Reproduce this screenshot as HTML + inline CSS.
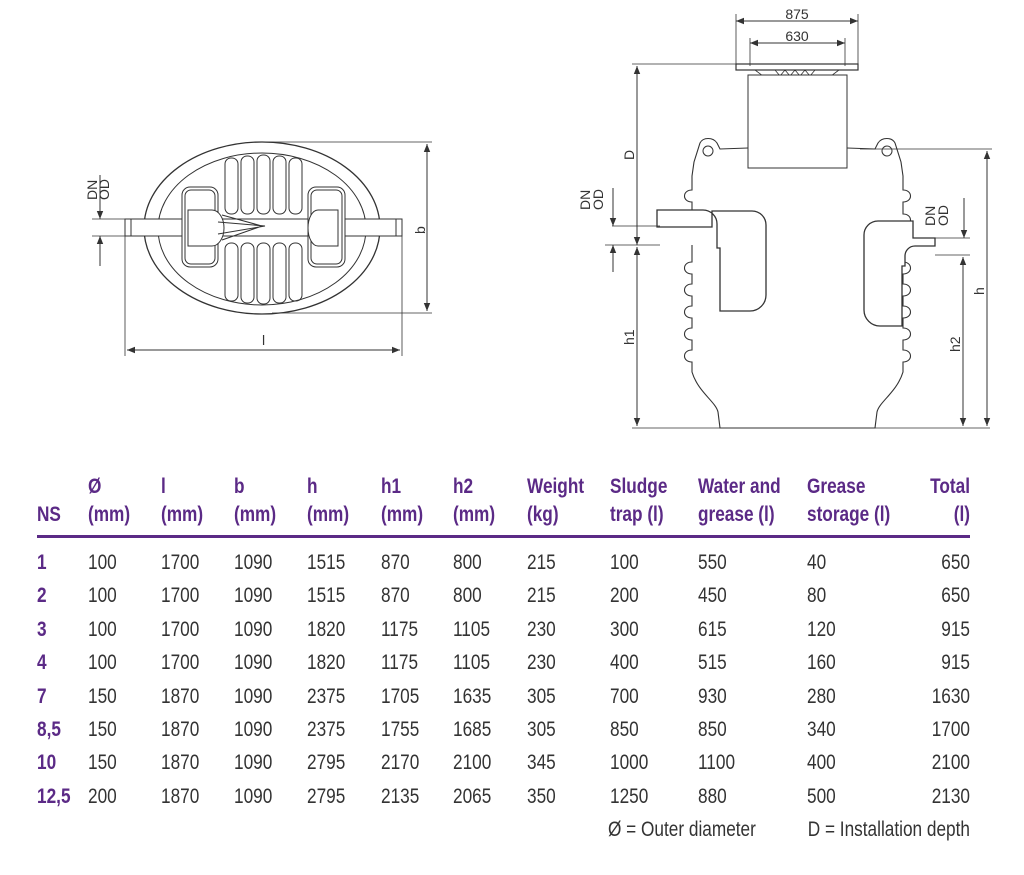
<!DOCTYPE html>
<html><head><meta charset="utf-8"><style>
body{margin:0;width:1024px;height:875px;background:#fff;position:relative;overflow:hidden;font-family:"Liberation Sans",sans-serif;}
.t{position:absolute;font-size:21px;line-height:24px;color:#333;white-space:nowrap;transform:scaleX(.82);transform-origin:left top}
.hd{color:#5b2a86;font-weight:bold}
.h2l{line-height:28px;top:473px}
.r{text-align:right;transform-origin:right top}
svg{position:absolute;left:0;top:0}
</style></head><body>
<svg width="1024" height="460" viewBox="0 0 1024 460" fill="none" stroke="#333" stroke-width="1">
<defs><marker id="a" viewBox="0 0 10 10" refX="10" refY="5" markerWidth="8" markerHeight="8" orient="auto-start-reverse"><path d="M0,1 L10,5 L0,9z" fill="#333" stroke="none"/></marker></defs>
<ellipse cx="262" cy="228" rx="118" ry="86" stroke-width="1.3"/>
<ellipse cx="262" cy="229" rx="104" ry="76"/>
<rect x="125" y="219" width="277" height="17" fill="#fff"/>
<line x1="131" y1="219" x2="131" y2="236"/><line x1="396" y1="219" x2="396" y2="236"/>
<rect x="182" y="187" width="36" height="80" rx="8" fill="#fff"/>
<rect x="185" y="190" width="30" height="74" rx="6"/>
<rect x="308" y="187" width="37" height="80" rx="8" fill="#fff"/>
<rect x="311" y="190" width="31" height="74" rx="6"/>
<path d="M188,210 h24 a12,18 0 0 1 0,36 h-24z M338,210 h-20 a10,18 0 0 0 0,36 h20z" fill="#fff"/>
<path d="M218,222 L265,226 L218,234 M222,215 L262,226 L222,240"/>
<g stroke-width="1">
<rect x="225" y="158" width="13" height="56" rx="6"/><rect x="241" y="156" width="13" height="58" rx="6"/><rect x="257" y="155" width="13" height="59" rx="6"/><rect x="273" y="156" width="13" height="58" rx="6"/><rect x="289" y="158" width="13" height="56" rx="6"/>
<rect x="225" y="243" width="13" height="58" rx="6"/><rect x="241" y="243" width="13" height="60" rx="6"/><rect x="257" y="243" width="13" height="61" rx="6"/><rect x="273" y="243" width="13" height="60" rx="6"/><rect x="289" y="243" width="13" height="58" rx="6"/>
</g>
<line x1="262" y1="142" x2="432" y2="142" stroke-width=".8"/><line x1="272" y1="313" x2="432" y2="313" stroke-width=".8"/>
<line x1="427" y1="144" x2="427" y2="311" marker-start="url(#a)" marker-end="url(#a)"/>
<line x1="125" y1="236" x2="125" y2="356" stroke-width=".8"/><line x1="402" y1="236" x2="402" y2="356" stroke-width=".8"/>
<line x1="127" y1="350" x2="400" y2="350" marker-start="url(#a)" marker-end="url(#a)"/>
<line x1="92" y1="219" x2="125" y2="219" stroke-width=".8"/><line x1="92" y1="236" x2="125" y2="236" stroke-width=".8"/>
<line x1="100" y1="175" x2="100" y2="219" marker-end="url(#a)"/><line x1="100" y1="266" x2="100" y2="236" marker-end="url(#a)"/>
<line x1="736" y1="21" x2="858" y2="21" marker-start="url(#a)" marker-end="url(#a)"/>
<line x1="750" y1="43" x2="845" y2="43" marker-start="url(#a)" marker-end="url(#a)"/>
<line x1="736" y1="14" x2="736" y2="66" stroke-width=".8"/><line x1="858" y1="14" x2="858" y2="66" stroke-width=".8"/>
<line x1="750" y1="38" x2="750" y2="66" stroke-width=".8"/><line x1="845" y1="38" x2="845" y2="66" stroke-width=".8"/>
<rect x="736" y="64" width="122" height="6" stroke-width="1.2"/>
<path d="M755,70 l8,6 h68 l8,-6 M775,70 l5,6 l5,-6 l5,6 l5,-6 l5,6 l5,-6 l5,6 l5,-6" stroke-width=".8"/>
<rect x="748" y="75" width="99" height="93" fill="#fff"/>
<line x1="632" y1="64" x2="745" y2="64" stroke-width=".8"/>
<path d="M748,148 L720,149 L717,143 C713,137 703,137 700,143 L694,162 L692,176 V190 C682,190 682,202 692,202 V226 M692,245 V262 C682,262 682,274 692,274 V284 C682,284 682,296 692,296 V306 C682,306 682,318 692,318 V328 C682,328 682,340 692,340 V350 C682,350 682,362 692,362 V372 C698,392 716,402 718,412 L720,428 H875 L877,412 C879,402 897,392 903,372 V362 C913,362 913,350 903,350 V340 C913,340 913,328 903,328 V318 C913,318 913,306 903,306 V296 C913,296 913,284 903,284 V274 C913,274 913,262 903,262 V255 M903,238 V226 C913,226 913,214 903,214 V202 C913,202 913,190 903,190 V176 L901,162 L895,143 C892,137 882,137 878,143 L875,149 L847,148" stroke-width="1.1"/>
<circle cx="708" cy="151" r="5"/><circle cx="887" cy="151" r="5"/>
<path d="M657,227 h55 v-16 h40 a14,14 0 0 1 14,14 v70 a16,16 0 0 1 -16,16 h-30 v-63 h-3 v-24 a14,14 0 0 0 -14,-14 h-46z" fill="#fff" stroke-width="1.3"/>
<path d="M935,238 h-22 v-17 h-35 a14,14 0 0 0 -14,14 v75 a16,16 0 0 0 16,16 h22 v-60 h3 v-10 a10,10 0 0 1 10,-10 h20z" fill="#fff" stroke-width="1.3"/>
<line x1="632" y1="428" x2="990" y2="428" stroke-width=".8"/>
<line x1="860" y1="149" x2="992" y2="149" stroke-width=".8"/>
<line x1="637" y1="66" x2="637" y2="245" marker-start="url(#a)" marker-end="url(#a)"/>
<line x1="637" y1="247" x2="637" y2="426" marker-start="url(#a)" marker-end="url(#a)"/>
<line x1="612" y1="226" x2="660" y2="226" stroke-width=".8"/><line x1="605" y1="245" x2="660" y2="245" stroke-width=".8"/>
<line x1="613" y1="188" x2="613" y2="226" marker-end="url(#a)"/><line x1="613" y1="272" x2="613" y2="245" marker-end="url(#a)"/>
<line x1="935" y1="238" x2="970" y2="238" stroke-width=".8"/><line x1="935" y1="255" x2="970" y2="255" stroke-width=".8"/>
<line x1="964" y1="198" x2="964" y2="238" marker-end="url(#a)"/>
<line x1="963" y1="257" x2="963" y2="426" marker-start="url(#a)" marker-end="url(#a)"/>
<line x1="987" y1="151" x2="987" y2="426" marker-start="url(#a)" marker-end="url(#a)"/>
<g fill="#333" stroke="none" font-family="Liberation Sans,sans-serif" font-size="14">
<text x="797" y="19" text-anchor="middle">875</text><text x="797" y="41" text-anchor="middle">630</text>
<text transform="translate(97,200) rotate(-90)">DN</text><text transform="translate(109,200) rotate(-90)">OD</text>
<text x="262" y="345">l</text><text transform="translate(425,234) rotate(-90)">b</text>
<text transform="translate(634,160) rotate(-90)">D</text>
<text transform="translate(590,210) rotate(-90)">DN</text><text transform="translate(603,210) rotate(-90)">OD</text>
<text transform="translate(935,226) rotate(-90)">DN</text><text transform="translate(948,226) rotate(-90)">OD</text>
<text transform="translate(634,345) rotate(-90)">h1</text><text transform="translate(960,352) rotate(-90)">h2</text>
<text transform="translate(984,295) rotate(-90)">h</text>
</g>
</svg>
<div style="position:absolute;left:37px;top:535px;width:933px;height:3px;background:#5b2a86"></div>
<div class="t hd" style="left:37px;top:503px">NS</div>
<div class="t hd h2l" style="left:88px">Ø<br>(mm)</div>
<div class="t hd h2l" style="left:161px">l<br>(mm)</div>
<div class="t hd h2l" style="left:234px">b<br>(mm)</div>
<div class="t hd h2l" style="left:307px">h<br>(mm)</div>
<div class="t hd h2l" style="left:381px">h1<br>(mm)</div>
<div class="t hd h2l" style="left:453px">h2<br>(mm)</div>
<div class="t hd h2l" style="left:527px">Weight<br>(kg)</div>
<div class="t hd h2l" style="left:610px">Sludge<br>trap (l)</div>
<div class="t hd h2l" style="left:698px">Water and<br>grease (l)</div>
<div class="t hd h2l" style="left:807px">Grease<br>storage (l)</div>
<div class="t hd h2l r" style="left:870px;width:100px">Total<br>(l)</div>
<div style="position:absolute;left:0;top:546px">
<div class="t" style="left:88px;top:0;line-height:33.4px">100<br>100<br>100<br>100<br>150<br>150<br>150<br>200</div>
<div class="t hd" style="left:37px;top:0;line-height:33.4px">1<br>2<br>3<br>4<br>7<br>8,5<br>10<br>12,5</div>
<div class="t" style="left:161px;top:0;line-height:33.4px">1700<br>1700<br>1700<br>1700<br>1870<br>1870<br>1870<br>1870</div>
<div class="t" style="left:234px;top:0;line-height:33.4px">1090<br>1090<br>1090<br>1090<br>1090<br>1090<br>1090<br>1090</div>
<div class="t" style="left:307px;top:0;line-height:33.4px">1515<br>1515<br>1820<br>1820<br>2375<br>2375<br>2795<br>2795</div>
<div class="t" style="left:381px;top:0;line-height:33.4px">870<br>870<br>1175<br>1175<br>1705<br>1755<br>2170<br>2135</div>
<div class="t" style="left:453px;top:0;line-height:33.4px">800<br>800<br>1105<br>1105<br>1635<br>1685<br>2100<br>2065</div>
<div class="t" style="left:527px;top:0;line-height:33.4px">215<br>215<br>230<br>230<br>305<br>305<br>345<br>350</div>
<div class="t" style="left:610px;top:0;line-height:33.4px">100<br>200<br>300<br>400<br>700<br>850<br>1000<br>1250</div>
<div class="t" style="left:698px;top:0;line-height:33.4px">550<br>450<br>615<br>515<br>930<br>850<br>1100<br>880</div>
<div class="t" style="left:807px;top:0;line-height:33.4px">40<br>80<br>120<br>160<br>280<br>340<br>400<br>500</div>
<div class="t r" style="left:900px;width:70px;top:0;line-height:33.4px">650<br>650<br>915<br>915<br>1630<br>1700<br>2100<br>2130</div>
</div>
<div class="t" style="left:608px;top:818px">Ø = Outer diameter</div>
<div class="t r" style="left:760px;width:210px;top:818px">D = Installation depth</div>
</body></html>
